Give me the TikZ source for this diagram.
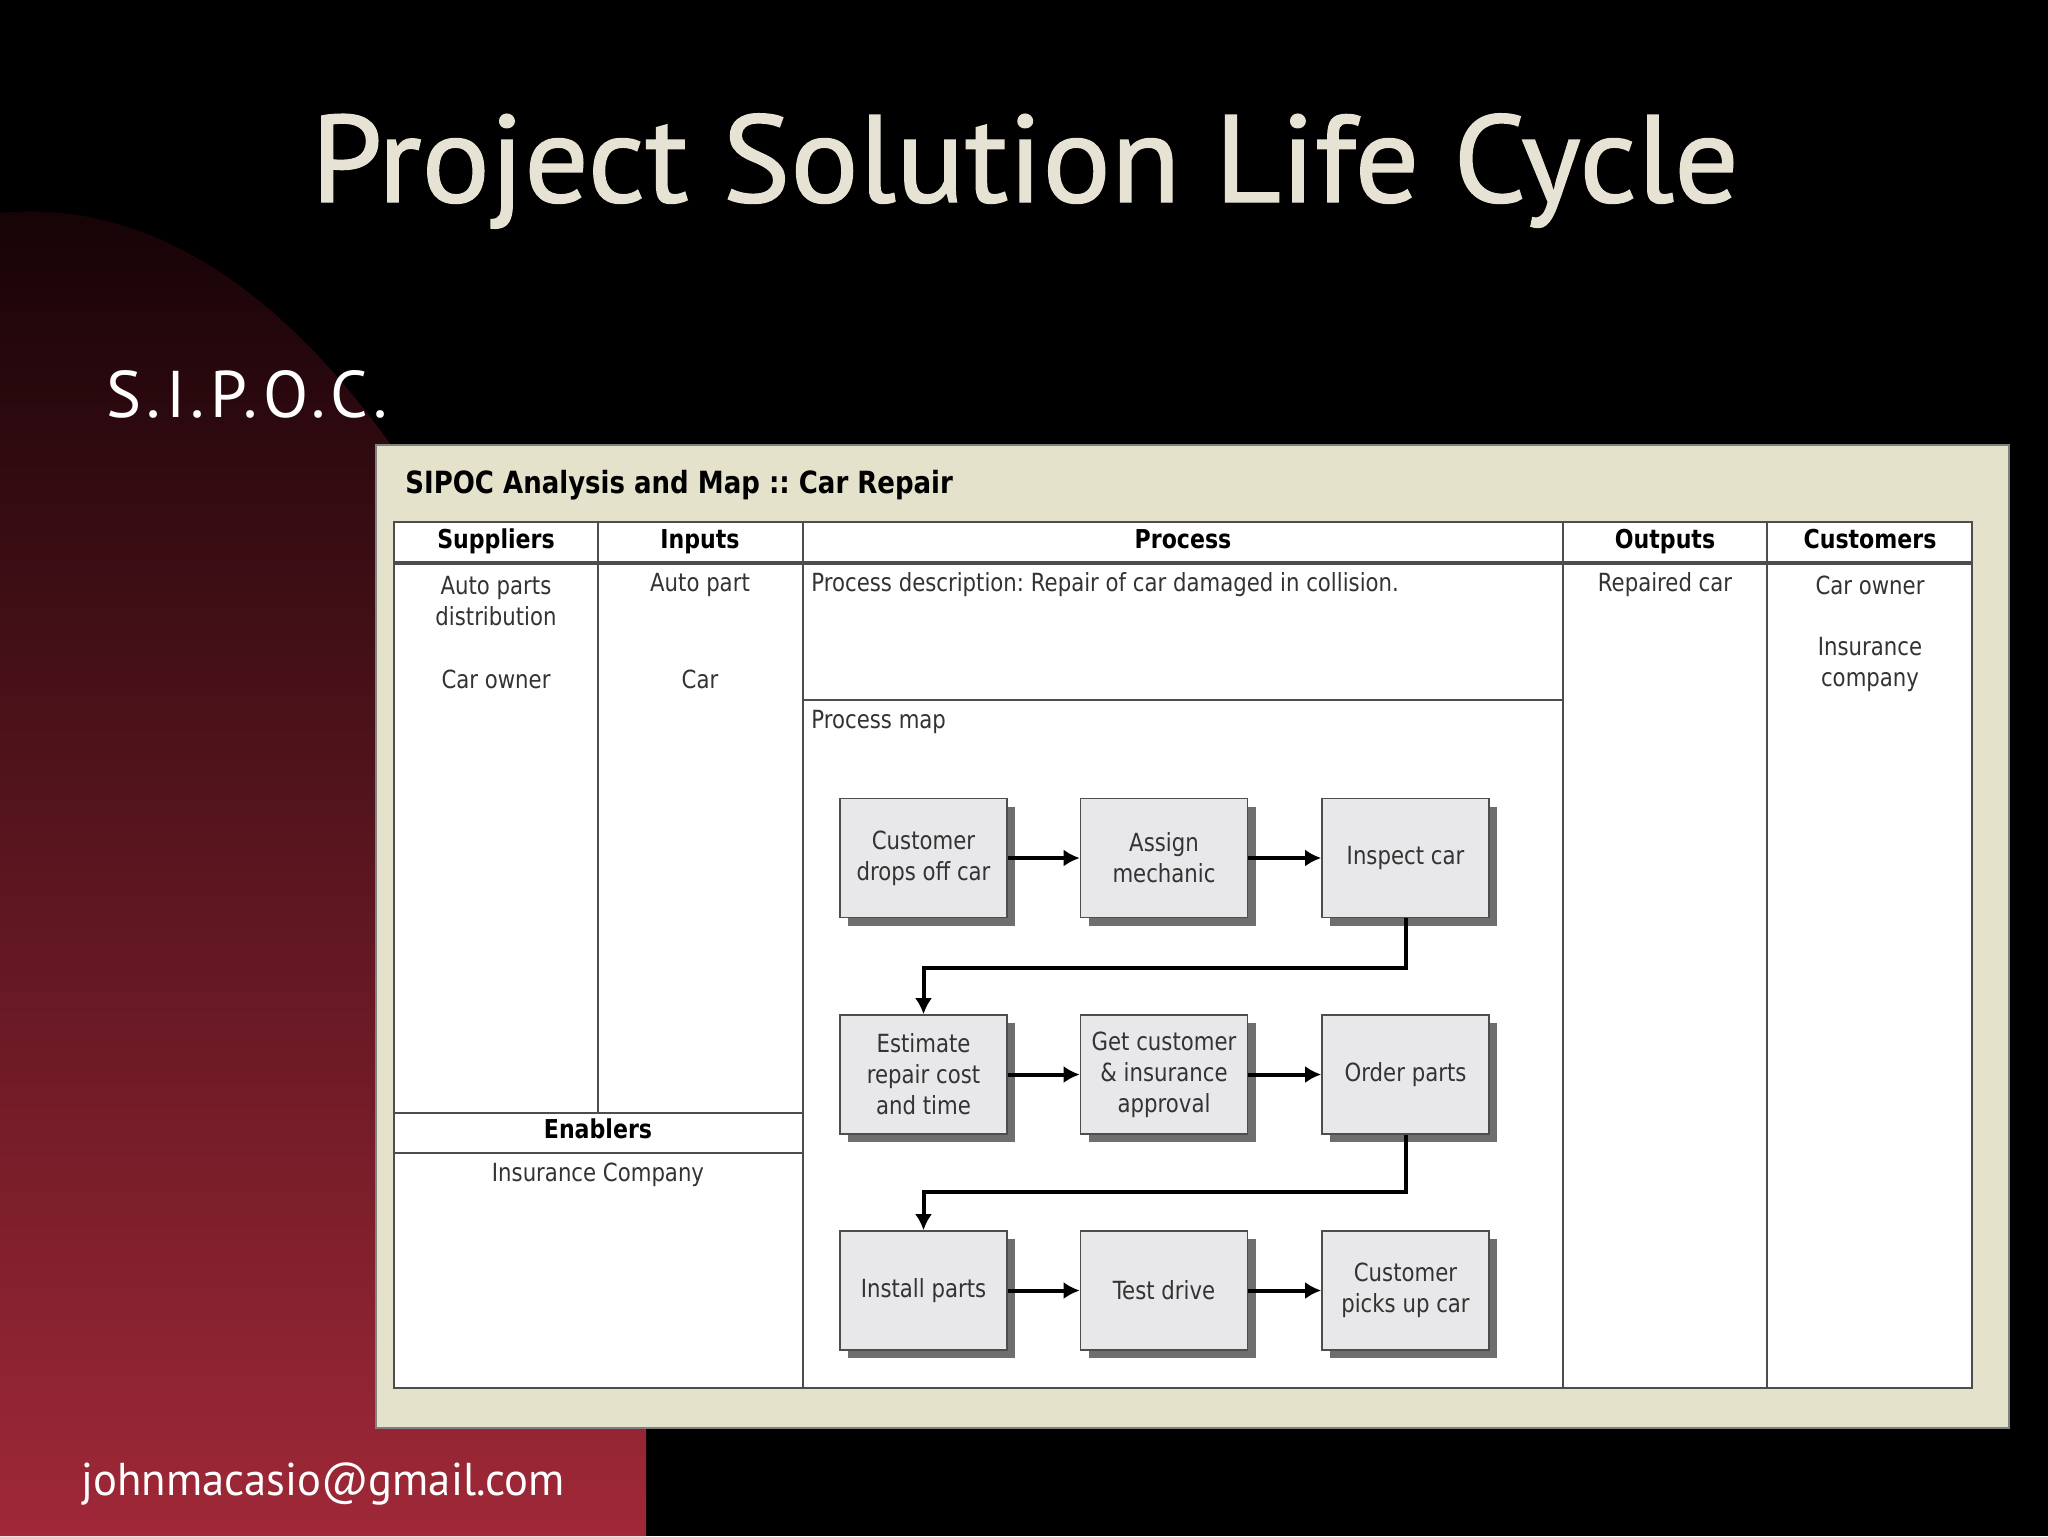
\documentclass[tikz,border=0pt]{standalone}
\usepackage{fontspec}
\usetikzlibrary{shadows,arrows.meta}
\newfontfamily\slidefont[FakeStretch=1.03,FakeBold=1.2]{PT Sans}
\newfontfamily\subfont[LetterSpace=8]{PT Sans}
\newfontfamily\mailfont[FakeStretch=0.97]{PT Sans}
\newfontfamily\sipocfont[FakeStretch=0.85]{DejaVu Sans}
\frenchspacing
\definecolor{slidecream}{HTML}{E6E3D5}
\definecolor{redtop}{HTML}{150306}
\definecolor{redmid}{HTML}{6C1A26}
\definecolor{redbot}{HTML}{A02838}
\definecolor{panelbeige}{HTML}{E4E2CA}
\definecolor{tabline}{HTML}{4D4D4D}
\definecolor{cellgray}{HTML}{333333}
\definecolor{boxfill}{HTML}{E8E8EA}
\definecolor{shadowgray}{HTML}{6E6E6E}
\tikzset{
  cell/.style={font=\sipocfont\fontsize{12.5}{15.5}\selectfont, text=cellgray, align=center, inner sep=0pt},
  head/.style={font=\sipocfont\bfseries\fontsize{13}{15.5}\selectfont, inner sep=0pt, text height=9.5pt, text depth=2.5pt},
  grid/.style={draw=tabline, line width=1.1pt},
  procbox/.style={draw=tabline, fill=boxfill, line width=0.8pt, minimum width=83.5pt, minimum height=59.5pt,
    align=center, inner sep=2pt, text=cellgray, font=\sipocfont\fontsize{12.5}{15.5}\selectfont,
    drop shadow={shadow xshift=4pt, shadow yshift=-4pt, fill=shadowgray, opacity=1}},
  flow/.style={->, line width=2pt, black}
}
\begin{document}
\begin{tikzpicture}[x=0.5pt,y=-0.5pt,>={Latex[length=8pt,width=8.5pt]}]
% slide background
\fill[black] (0,0) rectangle (2048,1536);
\shade[top color=redtop, middle color=redmid, bottom color=redbot]
  (0,213) .. controls (170,196) and (320,320) .. (440,520) -- (646,800) -- (646,1536) -- (0,1536) -- cycle;
\node[anchor=base, text=slidecream, font=\slidefont\fontsize{62}{70}\selectfont] (title) at (1025,202) {Project Solution Life Cycle};
\node[anchor=base west, text=white, font=\subfont\fontsize{33}{40}\selectfont, inner sep=0pt] (sipoc) at (106,417) {S.I.P.O.C.};
\node[anchor=base west, text=white, font=\mailfont\fontsize{23}{28}\selectfont, inner sep=0pt] (mail) at (81,1495) {johnmacasio@gmail.com};

% panel and table
\draw[fill=panelbeige, draw=gray, line width=1pt] (376,445) rectangle (2009,1428);
\node[anchor=west, font=\sipocfont\bfseries\fontsize{15.3}{18}\selectfont, inner sep=0pt] (maphead) at (405,485) {SIPOC Analysis and Map :: Car Repair};
\draw[grid, fill=white] (394,522) rectangle (1972,1388);
\draw[grid] (598,522) -- (598,1113);
\draw[grid] (803,522) -- (803,1388);
\draw[grid] (1563,522) -- (1563,1388);
\draw[grid] (1767,522) -- (1767,1388);
\draw[grid, line width=1.6pt] (394,563) -- (1972,563);
\draw[grid] (803,700) -- (1563,700);
\draw[grid] (394,1113) -- (803,1113);
\draw[grid] (394,1153) -- (803,1153);

\node[head] (hsup) at (496,541) {Suppliers};
\node[head] (hinp) at (700,541) {Inputs};
\node[head] (hpro) at (1183,541) {Process};
\node[head] (hout) at (1665,541) {Outputs};
\node[head] (hcus) at (1870,541) {Customers};
\node[head] (hena) at (598,1131) {Enablers};

\node[cell] (sup1) at (496,601) {Auto parts\\distribution};
\node[cell] (sup2) at (496,679) {Car owner};
\node[cell] (inp1) at (700,585) {Auto part};
\node[cell] (inp2) at (700,679) {Car};
\node[cell, anchor=west] (pdesc) at (811,585) {Process description: Repair of car damaged in collision.};
\node[cell, anchor=west] (pmap) at (811,722) {Process map};
\node[cell] (out1) at (1665,585) {Repaired car};
\node[cell] (cus1) at (1870,585) {Car owner};
\node[cell] (cus2) at (1870,664) {Insurance\\company};
\node[cell] (ena1) at (598,1175) {Insurance Company};

% process map
\node[procbox] (drop) at (923.5,858) {Customer\\drops off car};
\node[procbox] (assign) at (1164,858) {Assign\\mechanic};
\node[procbox] (inspect) at (1405.5,858) {Inspect car};
\node[procbox] (estimate) at (923.5,1074.5) {Estimate\\repair cost\\and time};
\node[procbox] (approve) at (1164,1074.5) {Get customer\\\& insurance\\approval};
\node[procbox] (order) at (1405.5,1074.5) {Order parts};
\node[procbox] (install) at (923.5,1290.5) {Install parts};
\node[procbox] (test) at (1164,1290.5) {Test drive};
\node[procbox] (pickup) at (1405.5,1290.5) {Customer\\picks up car};

\draw[flow] (drop) -- (assign);
\draw[flow] (assign) -- (inspect);
\draw[flow] (inspect.south) -- ++(0,50) -| (estimate.north);
\draw[flow] (estimate) -- (approve);
\draw[flow] (approve) -- (order);
\draw[flow] (order.south) -- ++(0,57) -| (install.north);
\draw[flow] (install) -- (test);
\draw[flow] (test) -- (pickup);
\end{tikzpicture}
\end{document}
